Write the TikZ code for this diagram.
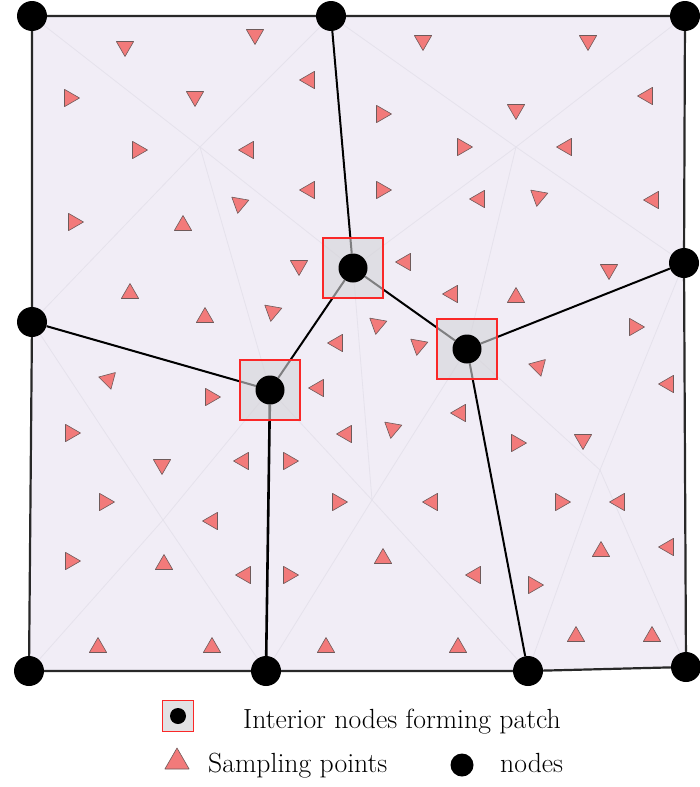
\documentclass[tikz,border=0pt]{standalone}
\usetikzlibrary{calc}
\definecolor{regionfill}{RGB}{241,237,246}
\definecolor{sampfill}{RGB}{242,122,122}
\definecolor{sampedge}{RGB}{110,90,90}
\definecolor{patchred}{RGB}{250,40,40}
\definecolor{patchgray}{RGB}{212,212,216}
\definecolor{legendgray}{RGB}{226,226,228}
\definecolor{faint}{RGB}{229,226,236}
\definecolor{borderline}{RGB}{40,40,40}
\pgfdeclarelayer{bg}\pgfdeclarelayer{mid}\pgfsetlayers{bg,mid,main}
\newcommand\tri[3]{\filldraw[samp,shift={(#1,#2)},shift={(#3+180:2.5)}] (#3:10) -- (#3+120:10) -- (#3+240:10) -- cycle;}
\begin{document}
\begin{tikzpicture}[x=1pt,y=-1pt,
 nd/.style={circle,fill=black,inner sep=0pt,minimum size=30pt},
 ind/.style={circle,fill=black,inner sep=0pt,minimum size=29pt},
 patch/.style={rectangle,draw=patchred,line width=1.3pt,fill=patchgray,fill opacity=0.6,draw opacity=1,minimum size=60pt,inner sep=0pt},
 link/.style={line width=2pt,black},
 border/.style={line width=2.2pt,draw=borderline,line join=round},
 faintline/.style={line width=0.8pt,draw=faint},
 samp/.style={fill=sampfill,draw=sampedge,line width=0.6pt,line join=round},
 lbl/.style={font=\fontsize{27.7}{32}\selectfont,anchor=base west,inner sep=0pt}]
\useasboundingbox (0,0) rectangle (699,787);
% boundary nodes
\node[nd] (TL) at (32,16) {};
\node[nd] (TM) at (331,16) {};
\node[nd] (TR) at (685,16) {};
\node[nd] (RM) at (684,263) {};
\node[nd] (BR) at (686,667) {};
\node[nd] (BRM) at (528,671) {};
\node[nd] (BM) at (266,671) {};
\node[nd] (BL) at (29,671) {};
\node[nd] (LM) at (32,322) {};
% interior patches
\node[patch] (Abox) at (353,268) {};
\node[patch] (Bbox) at (467,349) {};
\node[patch] (Cbox) at (270,390) {};
\node[ind] (A) at (353,268) {};
\node[ind] (B) at (467,349) {};
\node[ind] (C) at (270,390) {};
\coordinate (c1) at (200,147);
\coordinate (c2) at (516,147);
\coordinate (c3) at (163,520);
\coordinate (c4) at (372,500);
\coordinate (c5) at (600,470);
\begin{pgfonlayer}{bg}
\fill[white] (0,0) rectangle (699,787);
\fill[regionfill] (TL.center) -- (TM.center) -- (TR.center) -- (RM.center) -- (BR.center) -- (BRM.center) -- (BM.center) -- (BL.center) -- (LM.center) -- cycle;
\foreach \n in {TL,TM,A,C,LM} \draw[faintline] (c1) -- (\n.center);
\foreach \n in {TM,TR,RM,B,A} \draw[faintline] (c2) -- (\n.center);
\foreach \n in {LM,C,BM,BL} \draw[faintline] (c3) -- (\n.center);
\foreach \n in {C,A,B,BRM,BM} \draw[faintline] (c4) -- (\n.center);
\foreach \n in {B,RM,BR,BRM} \draw[faintline] (c5) -- (\n.center);
% sampling points
\tri{255}{37}{90}
\tri{125}{49}{90}
\tri{423}{43}{90}
\tri{588}{43}{90}
\tri{307}{80}{180}
\tri{72}{98}{0}
\tri{195}{99}{90}
\tri{645}{96}{180}
\tri{384}{114}{0}
\tri{516}{112}{90}
\tri{140}{150}{0}
\tri{246}{150}{180}
\tri{465}{147}{0}
\tri{564}{147}{180}
\tri{307}{190}{180}
\tri{384}{190}{0}
\tri{477}{199}{180}
\tri{538}{199}{100}
\tri{651}{200}{180}
\tri{76}{222}{0}
\tri{183}{223}{270}
\tri{239}{206}{100}
\tri{299}{268}{90}
\tri{403}{262}{180}
\tri{609}{272}{90}
\tri{130}{291}{270}
\tri{450}{294}{180}
\tri{516}{295}{270}
\tri{205}{315}{270}
\tri{272}{314}{100}
\tri{377}{327}{100}
\tri{637}{327}{0}
\tri{335}{343}{180}
\tri{418}{348}{100}
\tri{539}{369}{75}
\tri{109}{382}{75}
\tri{213}{397}{0}
\tri{316}{388}{180}
\tri{666}{384}{180}
\tri{458}{413}{180}
\tri{73}{433}{0}
\tri{344}{434}{180}
\tri{392}{431}{100}
\tri{519}{443}{0}
\tri{583}{442}{90}
\tri{162}{467}{90}
\tri{241}{461}{180}
\tri{291}{461}{0}
\tri{107}{502}{0}
\tri{210}{521}{180}
\tri{340}{502}{0}
\tri{430}{502}{180}
\tri{563}{502}{0}
\tri{617}{502}{180}
\tri{73}{561}{0}
\tri{164}{562}{270}
\tri{383}{556}{270}
\tri{601}{549}{270}
\tri{666}{547}{180}
\tri{243}{575}{180}
\tri{291}{575}{0}
\tri{473}{575}{180}
\tri{536}{585}{0}
\tri{98}{645}{270}
\tri{212}{645}{270}
\tri{326}{645}{270}
\tri{458}{645}{270}
\tri{576}{634}{270}
\tri{652}{634}{270}
\end{pgfonlayer}
\begin{pgfonlayer}{mid}
\draw[border] (TL.center) -- (TM.center) -- (TR.center) -- (RM.center) -- (BR.center) -- (BRM.center) -- (BM.center) -- (BL.center) -- (LM.center) -- cycle;
\draw[link] (TM) -- (A);
\draw[link] (A) -- (B);
\draw[link] (A) -- (C);
\draw[link] (B) -- (RM);
\draw[link] (B) -- (BRM);
\draw[link] (C) -- (LM);
\draw[link,line width=2.6pt] (C) -- (BM);
\end{pgfonlayer}
% legend
\node[patch,minimum size=31pt,fill=legendgray,fill opacity=1] (Lbox) at (178,716) {};
\node[circle,fill=black,minimum size=16pt,inner sep=0pt] (Ldot) at (178,716) {};
\node[lbl] (L1) at (243,728) {Interior nodes forming patch};
\filldraw[samp,shift={(177,762)}] (270:14) -- (30:14) -- (150:14) -- cycle;
\node[lbl] (L2) at (208,772) {Sampling points};
\node[circle,fill=black,minimum size=23pt,inner sep=0pt] (Lnode) at (462,765) {};
\node[lbl] (L3) at (500,772) {nodes};
\end{tikzpicture}
\end{document}
